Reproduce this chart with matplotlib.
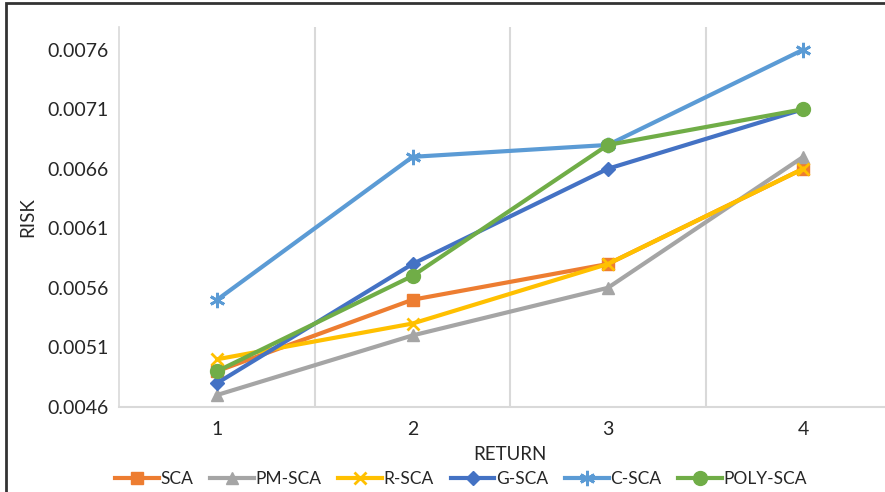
import numpy as np
import matplotlib.pyplot as plt
from matplotlib.patches import Rectangle

plt.rcParams['font.family'] = ['Lato', 'DejaVu Sans']

# Datos de riesgo por nivel de retorno
returns = [1, 2, 3, 4]
sca = [0.0049, 0.0055, 0.0058, 0.0066]
pm_sca = [0.0047, 0.0052, 0.0056, 0.0067]
r_sca = [0.0050, 0.0053, 0.0058, 0.0066]
g_sca = [0.0048, 0.0058, 0.0066, 0.0071]
c_sca = [0.0055, 0.0067, 0.0068, 0.0076]
poly_sca = [0.0049, 0.0057, 0.0068, 0.0071]
y_ticks = [0.0046, 0.0051, 0.0056, 0.0061, 0.0066, 0.0071, 0.0076]

fig = plt.figure(figsize=(8.85, 4.92), dpi=100)
ax = fig.add_axes([0.135, 0.173, 0.883, 0.772])

series = [
    ('SCA', sca, '#ED7D31', 's', 8),
    ('PM-SCA', pm_sca, '#A5A5A5', '^', 9),
    ('R-SCA', r_sca, '#FFC000', 'x', 9),
    ('G-SCA', g_sca, '#4472C4', 'D', 7),
    ('C-SCA', c_sca, '#5B9BD5', (6, 2, 0), 11),
    ('POLY-SCA', poly_sca, '#70AD47', 'o', 10),
]
for name, vals, col, mk, ms in series:
    ax.plot(returns, vals, color=col, lw=3, marker=mk, markersize=ms,
            markeredgewidth=2 if mk in ('x', (6, 2, 0)) else 1,
            markeredgecolor=col, label=name, zorder=3)

ax.set_xlim(0.5, 4.5)
ax.set_ylim(0.0046, 0.00779)
ax.set_xticks(returns)
ax.set_xticks([1.5, 2.5, 3.5], minor=True)
ax.set_yticks(y_ticks)
ax.set_yticklabels(['%.4f' % v for v in y_ticks])
ax.grid(True, which='minor', axis='x', color='#D9D9D9', lw=1.5)
ax.tick_params(which='both', length=0, labelsize=14, colors='#262626', pad=8)
ax.tick_params(axis='x', pad=10)

for s in ['top', 'right']:
    ax.spines[s].set_visible(False)
ax.spines['left'].set_color('#D9D9D9')
ax.spines['bottom'].set_color('#D9D9D9')
ax.spines['left'].set_linewidth(1.2)
ax.spines['bottom'].set_linewidth(1.5)

ax.set_xlabel('RETURN', fontsize=13.5, color='#262626', labelpad=6)
ax.set_ylabel('RISK', fontsize=13.5, color='#262626', labelpad=8)

ax.legend(loc='center', bbox_to_anchor=(0.437, -0.19), ncol=6, frameon=False,
          fontsize=12.5, handlelength=2.5, handletextpad=0.08, columnspacing=1.0,
          labelcolor='#262626')

# marco exterior del gráfico
fig.patches.append(Rectangle((6 / 885, -0.1), 1.2, 1.1 - 3 / 492, transform=fig.transFigure,
                             fill=False, edgecolor='#333333', lw=2))

plt.savefig('out.png', dpi=100)
